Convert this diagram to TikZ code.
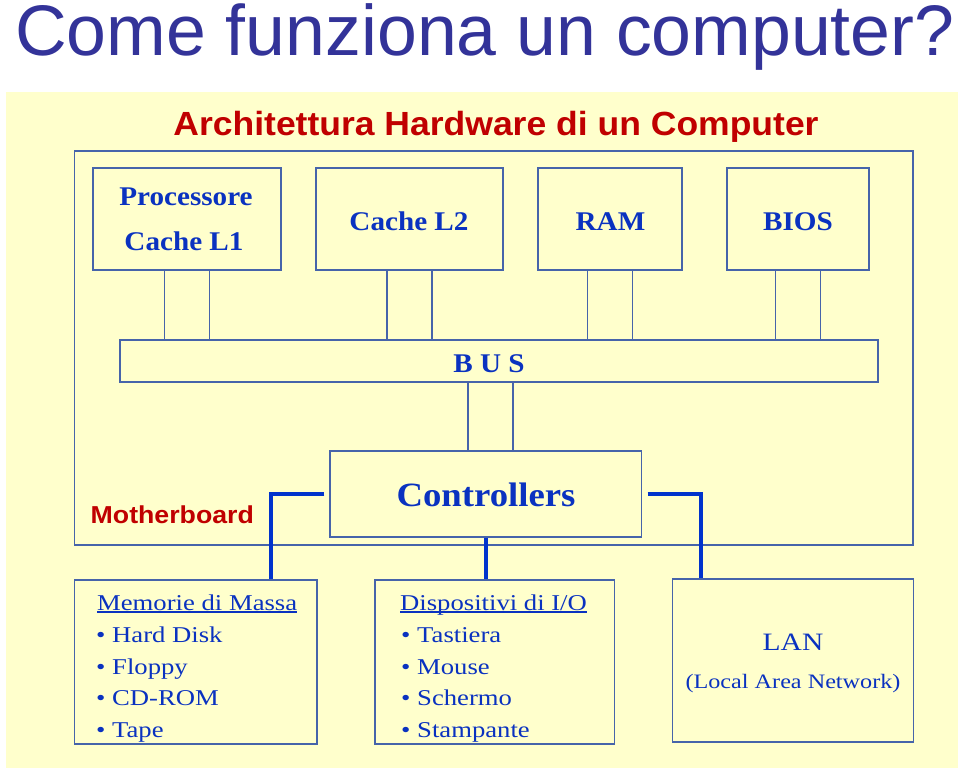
\documentclass[tikz,border=0pt]{standalone}
\usepackage{fontspec}
\setmainfont{Liberation Serif}
\newfontfamily\titlesans{Liberation Sans}
\newfontfamily\redsans[FakeStretch=1.06]{Liberation Sans}
\newfontfamily\mbsans[FakeStretch=1.09]{Liberation Sans}
\newfontfamily\boxserif[FakeStretch=1.08]{Liberation Serif}
\newfontfamily\listserif[FakeStretch=1.18]{Liberation Serif}
\definecolor{bg}{HTML}{FFFFCC}
\definecolor{frame}{HTML}{4664AA}
\definecolor{txtblue}{HTML}{0A32C0}
\definecolor{conn}{HTML}{0033CC}
\definecolor{titleblue}{HTML}{333399}
\definecolor{darkred}{HTML}{C00000}
\begin{document}
\begin{tikzpicture}[x=1pt,y=-1pt,
  box/.style={draw=frame, line width=1.2pt, fill=bg, inner sep=0pt},
  thinline/.style={draw=frame, line width=1.2pt},
  thickconn/.style={draw=conn, line width=4pt},
  lbl/.style={inner sep=0pt, anchor=base, text=txtblue},
  boldlbl/.style={lbl, font=\boxserif\bfseries\fontsize{27}{32}\selectfont},
  listlbl/.style={inner sep=0pt, anchor=base west, text=txtblue, font=\listserif\fontsize{22.6}{27}\selectfont}]
\useasboundingbox (0,0) rectangle (960,772);
\fill[white] (0,0) rectangle (960,772);
\fill[bg] (6,92) rectangle (958,768);

% titles
\node[anchor=base west, inner sep=0pt, text=titleblue, font=\titlesans\fontsize{71.6}{80}\selectfont] (title) at (15,55) {Come funziona un computer?};
\node[anchor=base, inner sep=0pt, text=darkred, font=\redsans\bfseries\fontsize{33.5}{40}\selectfont] (subtitle) at (496,135) {Architettura Hardware di un Computer};

% motherboard
\node[box, minimum width=838.5pt, minimum height=394pt] (mb) at (493.75,348) {};
\node[anchor=base west, inner sep=0pt, text=darkred, font=\mbsans\bfseries\fontsize{24.5}{30}\selectfont] (mblabel) at (90.5,523) {Motherboard};

% top boxes
\node[box, minimum width=188pt, minimum height=102pt] (proc) at (187,219) {};
\node[box, minimum width=187pt, minimum height=102pt] (l2) at (409.5,219) {};
\node[box, minimum width=144pt, minimum height=102pt] (ram) at (610,219) {};
\node[box, minimum width=142pt, minimum height=102pt] (bios) at (798,219) {};
\node[boldlbl] (proct1) at (186,205) {Processore};
\node[boldlbl] (proct2) at (184,250) {Cache L1};
\node[boldlbl] (l2t) at (409,230) {Cache L2};
\node[boldlbl] (ramt) at (610.5,230) {RAM};
\node[boldlbl] (biost) at (798,230) {BIOS};

% bus
\node[box, minimum width=758pt, minimum height=42pt] (bus) at (499,361) {};
\node[boldlbl] (bust) at (489,372) {B U S};

\foreach \n in {proc,l2,ram,bios}{
  \coordinate (\n-a) at ([xshift=-22.5pt]\n.south);
  \coordinate (\n-b) at ([xshift=22.5pt]\n.south);
  \draw[thinline] (\n-a) -- (\n-a |- bus.north);
  \draw[thinline] (\n-b) -- (\n-b |- bus.north);
}

% controllers
\node[box, minimum width=311.5pt, minimum height=86pt] (ctrl) at (485.75,494) {};
\node[lbl, font=\boxserif\bfseries\fontsize{34}{40}\selectfont] (ctrlt) at (486,506) {Controllers};
\coordinate (ba) at ([xshift=-31pt]bus.south);
\coordinate (bb) at ([xshift=14pt]bus.south);
\draw[thinline] (ba) -- (ba |- ctrl.north);
\draw[thinline] (bb) -- (bb |- ctrl.north);

% lower boxes
\node[box, minimum width=242.5pt, minimum height=164pt] (mem) at (195.75,662) {};
\node[box, minimum width=239.5pt, minimum height=164pt] (disp) at (494.75,662) {};
\node[box, minimum width=241pt, minimum height=163pt] (lan) at (793,660.5) {};

\node[listlbl] (memh) at (97,610) {Memorie di Massa};
\draw[draw=txtblue, line width=1.5pt] ([yshift=-2pt]memh.base west) -- ([yshift=-2pt]memh.base east);
\node[listlbl] (mem1) at (96,642.5) {• Hard Disk};
\node[listlbl] (mem2) at (96,674) {• Floppy};
\node[listlbl] (mem3) at (96,705.5) {• CD-ROM};
\node[listlbl] (mem4) at (96,737) {• Tape};

\node[listlbl] (disph) at (400,610) {Dispositivi di I/O};
\draw[draw=txtblue, line width=1.5pt] ([yshift=-2pt]disph.base west) -- ([yshift=-2pt]disph.base east);
\node[listlbl] (disp1) at (401,642.5) {• Tastiera};
\node[listlbl] (disp2) at (401,674) {• Mouse};
\node[listlbl] (disp3) at (401,705.5) {• Schermo};
\node[listlbl] (disp4) at (401,737) {• Stampante};

\node[lbl, font=\listserif\fontsize{25}{30}\selectfont] (lant) at (793,650) {LAN};
\node[lbl, font=\listserif\fontsize{20.5}{25}\selectfont] (lant2) at (793,688) {(Local Area Network)};

% thick connectors
\coordinate (cl1) at ([xshift=-5pt]ctrl.west);
\coordinate (cl2) at ([xshift=-58pt]ctrl.west);
\draw[thickconn] (cl1) -- (cl2) -- (cl2 |- mem.north);
\coordinate (cr1) at ([xshift=5.5pt]ctrl.east);
\coordinate (cr2) at ([xshift=58.5pt]ctrl.east);
\draw[thickconn] (cr1) -- (cr2) -- (cr2 |- lan.north);
\draw[thickconn] (ctrl.south) -- (ctrl.south |- disp.north);
\end{tikzpicture}
\end{document}
